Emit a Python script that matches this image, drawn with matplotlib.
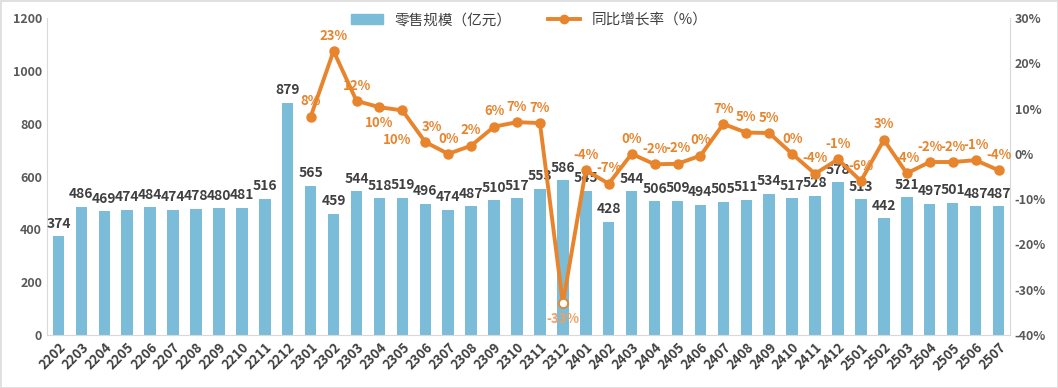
import numpy as np
import matplotlib.pyplot as plt
from matplotlib.lines import Line2D
from matplotlib.patches import Patch
from matplotlib.ticker import FuncFormatter

plt.rcParams['font.family'] = ['Noto Sans CJK SC', 'DejaVu Sans']

# 月份
months = ['2202', '2203', '2204', '2205', '2206', '2207', '2208', '2209', '2210', '2211', '2212',
          '2301', '2302', '2303', '2304', '2305', '2306', '2307', '2308', '2309', '2310', '2311', '2312',
          '2401', '2402', '2403', '2404', '2405', '2406', '2407', '2408', '2409', '2410', '2411', '2412',
          '2501', '2502', '2503', '2504', '2505', '2506', '2507']

# 零售规模（亿元）
retail = [374, 486, 469, 474, 484, 474, 478, 480, 481, 516, 879,
          565, 459, 544, 518, 519, 496, 474, 487, 510, 517, 553, 586,
          545, 428, 544, 506, 509, 494, 505, 511, 534, 517, 528, 578,
          513, 442, 521, 497, 501, 487, 487]

# 同比增长率（%），从2301开始
growth_months = months[11:]
growth = [8.2, 22.7, 11.7, 10.3, 9.6, 2.6, 0.0, 1.8, 6.0, 7.0, 6.8, -33.0,
          -3.6, -6.6, 0.0, -2.3, -2.2, -0.4, 6.6, 4.7, 4.6, 0.0, -4.4, -1.2,
          -6.0, 3.1, -4.3, -1.8, -1.8, -1.4, -3.6]

bar_color = '#7BBCD9'
line_color = '#E8842C'
text_gray = '#404040'
tick_gray = '#595959'

fig = plt.figure(figsize=(10.58, 3.88), dpi=100)
fig.patch.set_edgecolor('#E0E0E0')
fig.patch.set_linewidth(2)
ax = fig.add_axes([0.0444, 0.1366, 0.9102, 0.817])
ax2 = ax.twinx()

x = np.arange(len(months))
ax.bar(x, retail, width=0.5, color=bar_color, zorder=2)
for xi, v in zip(x, retail):
    ax.annotate(str(v), (xi, v), xytext=(0, 4), textcoords='offset points',
                ha='center', va='bottom', fontsize=10, fontweight='bold', color=text_gray)

gx = np.array([months.index(m) for m in growth_months])
ax2.plot(gx, growth, color=line_color, lw=2.8, marker='o', ms=6.5, zorder=3)
i_min = int(np.argmin(growth))
ax2.plot(gx[i_min], growth[i_min], 'o', ms=6.5, mfc='white', mec=line_color, mew=1.2, zorder=4)

# 标签位置：大部分在点上方
below = {'2304': (0, -6), '2305': (-4, -16), '2312': (0, -6)}
for m, xi, v in zip(growth_months, gx, growth):
    lab = f"{int(round(v))}%"
    if m in below:
        ax2.annotate(lab, (xi, v), xytext=below[m], textcoords='offset points',
                     ha='center', va='top', fontsize=9.5, fontweight='bold',
                     color=line_color if m != '2312' else '#F0A060')
    elif m == '2306':
        ax2.annotate(lab, (xi, v), xytext=(5, 6), textcoords='offset points',
                     ha='center', va='bottom', fontsize=9.5, fontweight='bold', color=line_color)
    else:
        ax2.annotate(lab, (xi, v), xytext=(0, 6), textcoords='offset points',
                     ha='center', va='bottom', fontsize=9.5, fontweight='bold', color=line_color)

ax.set_xlim(-0.5, len(months) - 0.5)
ax.set_ylim(0, 1200)
ax.set_yticks(range(0, 1201, 200))
ax2.set_ylim(-40, 30)
ax2.set_yticks(range(-40, 31, 10))
ax2.yaxis.set_major_formatter(FuncFormatter(lambda v, p: f"{int(v)}%"))

ax.set_xticks(x)
ax.set_xticklabels(months, rotation=45, ha='right', rotation_mode='anchor')

for a in (ax, ax2):
    a.tick_params(length=0, labelsize=9, labelcolor=tick_gray)
    for t in a.get_yticklabels() + a.get_xticklabels():
        t.set_fontweight('bold')
    for s in a.spines.values():
        s.set_visible(False)
ax.tick_params(axis='x', pad=4, labelcolor=text_gray, labelsize=9.5)
ax.spines['bottom'].set_visible(True)
ax.spines['bottom'].set_color('#D9D9D9')
ax.spines['left'].set_visible(True)
ax.spines['left'].set_color('#D9D9D9')
ax2.spines['right'].set_visible(True)
ax2.spines['right'].set_color('#D9D9D9')

handles = [Patch(color=bar_color),
           Line2D([], [], color=line_color, lw=2.8, marker='o', ms=6)]
fig.legend(handles, ['零售规模（亿元）', '同比增长率（%）'], loc='center',
           bbox_to_anchor=(0.5, 0.948), ncol=2, frameon=False, fontsize=10.5,
           handlelength=2.2, columnspacing=2.5, labelcolor=text_gray)

fig.savefig('out.png', dpi=100)
